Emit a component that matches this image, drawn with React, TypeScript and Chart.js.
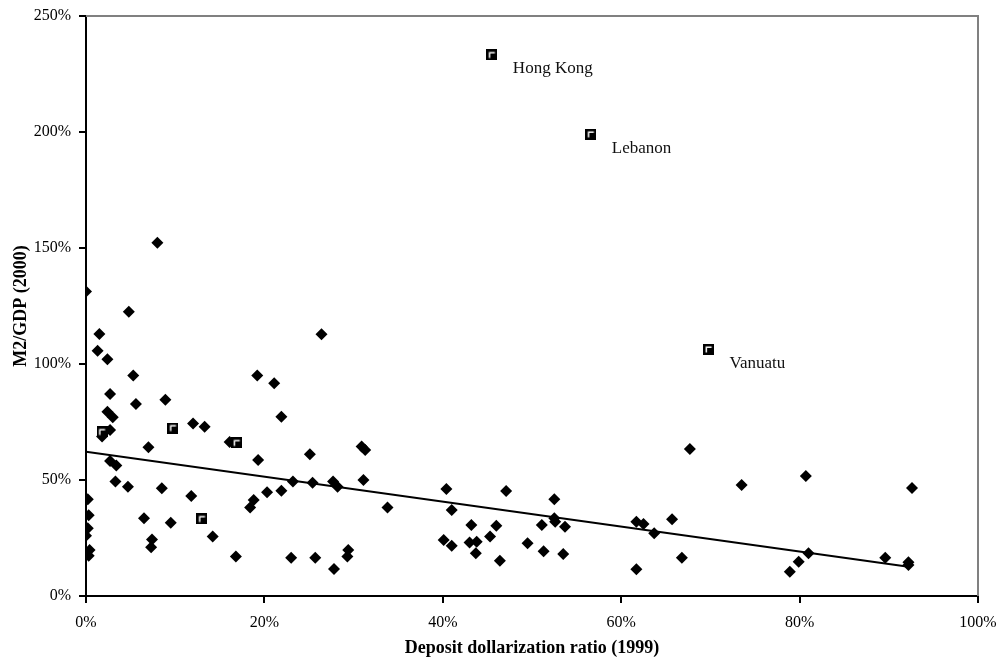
import { useEffect, useRef } from 'react';
import { Chart, registerables } from 'chart.js';

Chart.register(...registerables);

// Countries shown as diamonds: deposit dollarization ratio (1999, %) and M2/GDP (2000, %)
const diamondX = [
  0, 8.0, 4.8, 1.5, 1.3, 2.4, 5.3, 2.7, 5.6, 8.9, 2.4, 3.0, 2.7, 1.8, 12.0, 13.3, 7.0, 2.7, 3.4, 3.3,
  4.7, 8.5, 11.8, 0.2, 0.3, 0.2, 0, 6.5, 9.5, 14.2, 7.4, 7.3, 0.4, 0.3, 26.4, 19.2, 21.1, 21.9, 16.1, 19.3,
  25.1, 23.2, 25.4, 27.7, 28.2, 20.3, 21.9, 18.8, 18.4, 16.8, 23.0, 25.7, 27.8, 30.9, 31.3, 31.1, 33.8, 29.4,
  29.3, 40.4, 41.0, 47.1, 43.2, 46.0, 45.3, 40.1, 41.0, 43.0, 43.8, 43.7, 46.4, 52.5, 52.5, 52.6, 51.1, 53.7,
  49.5, 51.3, 53.5, 67.7, 73.5, 80.7, 61.7, 62.5, 65.7, 63.7, 66.8, 61.7, 79.9, 78.9, 81.0, 92.6, 89.6, 92.2, 92.2,
];
const diamondY = [
  131.2, 152.3, 122.5, 112.9, 105.7, 102, 95, 87.1, 82.8, 84.6, 79.4, 77, 71.6, 68.7, 74.4, 73, 64.1, 58.2, 56.3, 49.4,
  47.1, 46.4, 43.1, 41.7, 34.8, 29.2, 26, 33.5, 31.6, 25.6, 24.4, 21, 19.8, 17.4, 112.8, 95, 91.7, 77.3, 66.4, 58.6,
  61.1, 49.3, 48.8, 49.3, 47.1, 44.7, 45.4, 41.4, 38.1, 17, 16.5, 16.5, 11.6, 64.4, 62.9, 50, 38.1, 19.8,
  17, 46.1, 37.1, 45.3, 30.6, 30.3, 25.6, 24.1, 21.7, 23.1, 23.4, 18.4, 15.2, 41.7, 33.5, 32, 30.6, 29.9,
  22.7, 19.3, 18.1, 63.4, 47.8, 51.7, 32, 31, 33.1, 27, 16.5, 11.5, 14.8, 10.5, 18.4, 46.6, 16.5, 14.5, 13.4,
];

// Countries shown as squares
const squareX = [1.8, 9.75, 16.9, 13.0, 45.5, 56.6, 69.8];
const squareY = [70.7, 72.4, 66, 33.2, 233.2, 199.0, 106.3];
const squareLabels = ['', '', '', '', 'Hong Kong', 'Lebanon', 'Vanuatu'];

// Fitted trend line end points
const trendX = [0, 92.2];
const trendY = [62.2, 12.6];

const xTicks = [0, 20, 40, 60, 80, 100];
const yTicks = [0, 50, 100, 150, 200, 250];

const SERIF = '"Liberation Serif", "Times New Roman", serif';

function makeSquareMarker(): HTMLCanvasElement {
  const c = document.createElement('canvas');
  c.width = 11;
  c.height = 11;
  const g = c.getContext('2d')!;
  g.fillStyle = '#000';
  g.fillRect(0, 0, 11, 11);
  g.strokeStyle = '#fff';
  g.lineWidth = 1.5;
  g.beginPath();
  g.moveTo(3.25, 8.5);
  g.lineTo(3.25, 3.25);
  g.lineTo(8.5, 3.25);
  g.stroke();
  return c;
}

const framePlugin = {
  id: 'frame',
  beforeDatasetsDraw(chart: any) {
    const { ctx, chartArea } = chart;
    const { left, right, top, bottom } = chartArea;
    ctx.save();
    ctx.strokeStyle = '#808080';
    ctx.lineWidth = 2;
    ctx.beginPath();
    ctx.moveTo(left, top);
    ctx.lineTo(right, top);
    ctx.lineTo(right, bottom);
    ctx.stroke();
    ctx.restore();
  },
};

const labelPlugin = {
  id: 'squareLabels',
  afterDatasetsDraw(chart: any) {
    const { ctx } = chart;
    const meta = chart.getDatasetMeta(0);
    ctx.save();
    ctx.font = `17px ${SERIF}`;
    ctx.fillStyle = '#111';
    ctx.textAlign = 'left';
    ctx.textBaseline = 'middle';
    meta.data.forEach((el: any, i: number) => {
      const t = squareLabels[i];
      if (t) ctx.fillText(t, el.x + 21, el.y + 14);
    });
    ctx.restore();
  },
};

export default function App() {
  const ref = useRef<HTMLCanvasElement | null>(null);

  useEffect(() => {
    if (!ref.current) return;
    const marker = makeSquareMarker();
    const chart = new Chart(ref.current, {
      type: 'scatter',
      data: {
        datasets: [
          {
            label: 'Selected',
            data: squareX.map((x, i) => ({ x, y: squareY[i] })),
            pointStyle: marker as any,
            pointRadius: 5.5,
            order: 0,
          },
          {
            label: 'Countries',
            data: diamondX.map((x, i) => ({ x, y: diamondY[i] })),
            pointStyle: 'rectRot',
            pointRadius: 6,
            backgroundColor: '#000',
            borderColor: '#000',
            borderWidth: 0,
            order: 1,
          },
          {
            type: 'line' as any,
            label: 'Trend',
            data: trendX.map((x, i) => ({ x, y: trendY[i] })),
            borderColor: '#000',
            borderWidth: 2,
            pointRadius: 0,
            fill: false,
            order: 2,
          } as any,
        ],
      },
      options: {
        animation: false,
        responsive: false,
        devicePixelRatio: 1,
        layout: { padding: { top: 16, right: 19, left: 0, bottom: 0 } },
        plugins: { legend: { display: false }, tooltip: { enabled: false } },
        scales: {
          x: {
            type: 'linear',
            min: 0,
            max: 100,
            afterBuildTicks: (s: any) => {
              s.ticks = xTicks.map((v) => ({ value: v }));
            },
            afterFit: (s: any) => {
              s.height = 71;
              s.paddingRight = 0;
              s.paddingLeft = 0;
            },
            grid: { drawOnChartArea: false, drawTicks: true, tickLength: 7, color: '#000', lineWidth: 2 },
            border: { display: true, color: '#000', width: 2 },
            ticks: {
              padding: 10,
              color: '#000',
              font: { family: SERIF, size: 16 },
              maxRotation: 0,
              callback: (v: any) => `${v}%`,
            },
            title: {
              display: true,
              text: 'Deposit dollarization ratio (1999)',
              color: '#000',
              font: { family: SERIF, size: 18, weight: 'bold' },
              padding: { top: 0, bottom: 8 },
            },
          },
          y: {
            type: 'linear',
            min: 0,
            max: 250,
            afterBuildTicks: (s: any) => {
              s.ticks = yTicks.map((v) => ({ value: v }));
            },
            afterFit: (s: any) => {
              s.width = 86;
              s.paddingTop = 0;
              s.paddingBottom = 0;
            },
            grid: { drawOnChartArea: false, drawTicks: true, tickLength: 7, color: '#000', lineWidth: 2 },
            border: { display: true, color: '#000', width: 2 },
            ticks: {
              padding: 8,
              color: '#000',
              font: { family: SERIF, size: 16 },
              callback: (v: any) => `${v}%`,
            },
            title: {
              display: true,
              text: 'M2/GDP (2000)',
              color: '#000',
              font: { family: SERIF, size: 18, weight: 'bold' },
              padding: { top: 11, bottom: 0 },
            },
          },
        },
      },
      plugins: [framePlugin, labelPlugin],
    });
    return () => chart.destroy();
  }, []);

  return (
    <div style={{ position: 'absolute', left: 0, top: 0, width: 997, height: 667, background: '#fff' }}>
      <canvas ref={ref} width={997} height={667} style={{ display: 'block' }} />
    </div>
  );
}
